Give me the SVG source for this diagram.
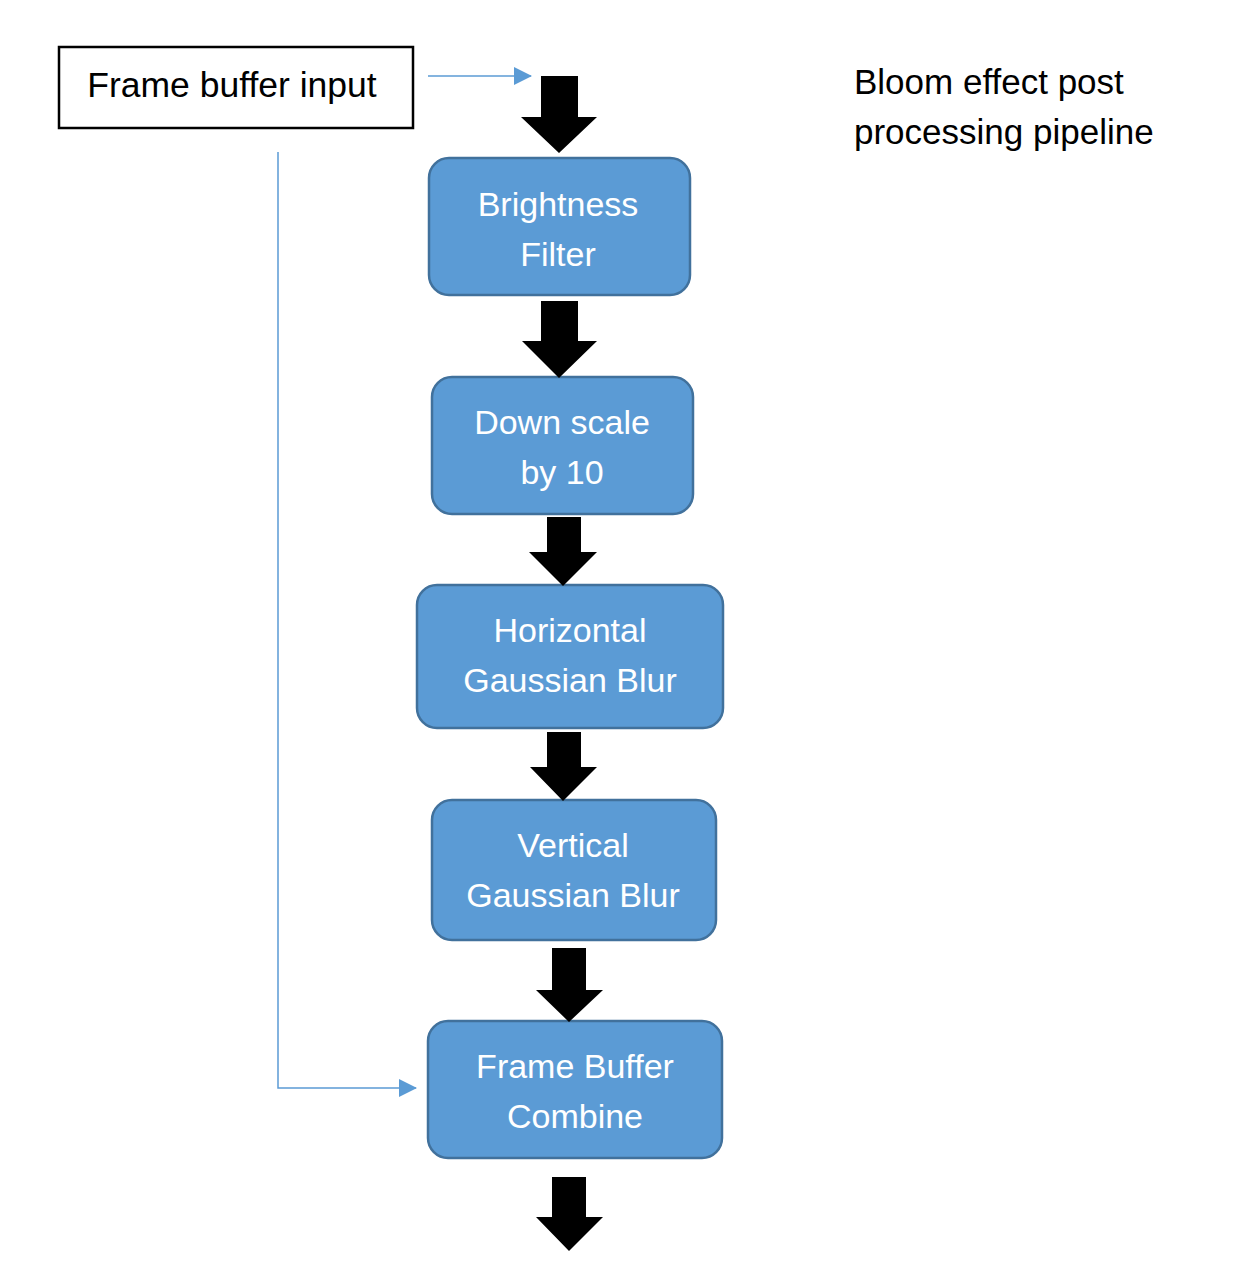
<svg xmlns="http://www.w3.org/2000/svg" width="1255" height="1261" viewBox="0 0 1255 1261">
<style>
text{font-family:"Liberation Sans",Arial,sans-serif;font-size:35px}
.n rect{fill:#5B9BD5;stroke:#41719C;stroke-width:2.5}
.n text{fill:#fff;text-anchor:middle;font-size:34px}
.blk{fill:#000}
.bl{fill:none;stroke:#5B9BD5;stroke-width:1.5}
</style>
<defs>
<marker id="ah" markerWidth="18" markerHeight="18" refX="17" refY="9" orient="auto" markerUnits="userSpaceOnUse">
<path d="M0,0 L18,9 L0,18 Z" fill="#5B9BD5"/>
</marker>
</defs>
<rect width="1255" height="1261" fill="#fff"/>
<g id="input">
<rect x="59" y="47" width="354" height="81" fill="#fff" stroke="#000" stroke-width="2.5"/>
<text x="232" y="97" text-anchor="middle" style="font-size:35.5px">Frame buffer input</text>
</g>
<g id="title">
<text x="854" y="94">Bloom effect post</text>
<text x="854" y="144">processing pipeline</text>
</g>
<g id="brightness" class="n">
<rect x="429" y="158" width="261" height="137" rx="20"/>
<text x="558" y="216">Brightness</text>
<text x="558" y="266">Filter</text>
</g>
<g id="downscale" class="n">
<rect x="432" y="377" width="261" height="137" rx="20"/>
<text x="562" y="434">Down scale</text>
<text x="562" y="484">by 10</text>
</g>
<g id="hblur" class="n">
<rect x="417" y="585" width="306" height="143" rx="20"/>
<text x="570" y="642">Horizontal</text>
<text x="570" y="692">Gaussian Blur</text>
</g>
<g id="vblur" class="n">
<rect x="432" y="800" width="284" height="140" rx="20"/>
<text x="573" y="857">Vertical</text>
<text x="573" y="907">Gaussian Blur</text>
</g>
<g id="combine" class="n">
<rect x="428" y="1021" width="294" height="137" rx="20"/>
<text x="575" y="1078">Frame Buffer</text>
<text x="575" y="1128">Combine</text>
</g>
<g id="connectors">
<path class="blk" d="M541,76 H578 V117 H597 L559,153 L521,117 H541 Z"/>
<path class="blk" d="M541,301 H578 V341 H597 L559,378 L522,341 H541 Z"/>
<path class="blk" d="M547,517 H581 V552 H597 L563,586 L529,552 H547 Z"/>
<path class="blk" d="M547,732 H581 V767 H597 L563,801 L530,767 H547 Z"/>
<path class="blk" d="M552,948 H586 V990 H603 L569,1022 L536,990 H552 Z"/>
<path class="blk" d="M552,1177 H586 V1217 H603 L569,1251 L536,1217 H552 Z"/>
<path class="bl" d="M428,76 H531" marker-end="url(#ah)"/>
<path class="bl" d="M278,152 V1088 H416" marker-end="url(#ah)"/>
</g>
</svg>
